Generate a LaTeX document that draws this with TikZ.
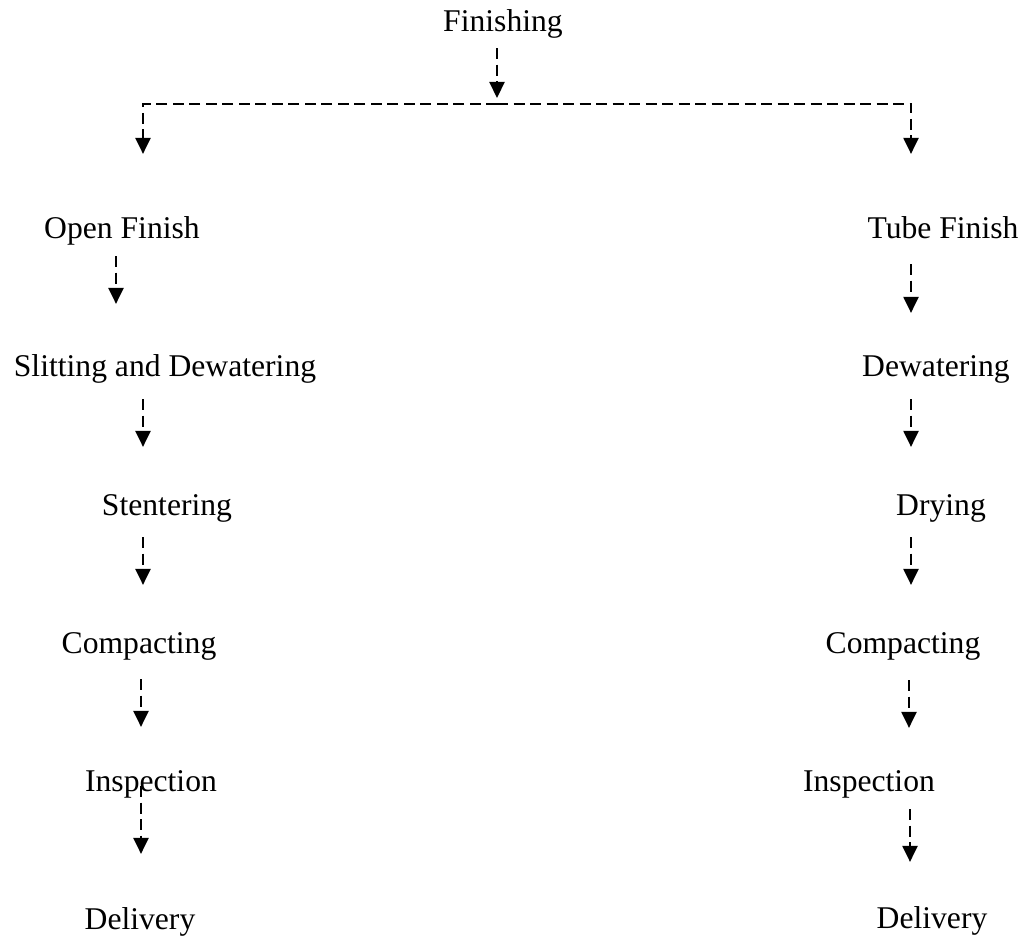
\documentclass[tikz,border=0pt]{standalone}
\usepackage{fontspec}
\setmainfont{Liberation Serif}
\usetikzlibrary{arrows.meta, positioning, calc}
\tikzset{
  every picture/.style={line width=1.25pt},
  lbl/.style={anchor=base, inner sep=0pt, text height=0.44cm, text depth=0.12cm, font=\fontsize{18}{22}\selectfont},
  flow/.style={-{Triangle[length=0.32cm, width=0.3cm]}, dash pattern=on 0.22cm off 0.11cm},
  link/.style={flow, shorten <=0.3cm, shorten >=0.9cm},
}
\begin{document}
\begin{tikzpicture}
  \useasboundingbox (0,0) rectangle (20.58,-18.74);

  \node[lbl] (fin) at (10.06,-0.64) {Finishing};
  \coordinate (split) at (9.94,-2.08);

  % open finish branch
  \node[lbl] (open)  at (2.44,-4.78)  {Open Finish};
  \node[lbl] (slit)  at (3.30,-7.54)  {Slitting and Dewatering};
  \node[lbl] (stent) at (3.34,-10.30) {Stentering};
  \node[lbl] (compl) at (2.78,-13.06) {Compacting};
  \node[lbl] (inspl) at (3.02,-15.82) {Inspection};
  \node[lbl] (dell)  at (2.80,-18.58) {Delivery};

  % tube finish branch
  \node[lbl] (tube)  at (18.86,-4.78)  {Tube Finish};
  \node[lbl] (dewat) at (18.72,-7.54)  {Dewatering};
  \node[lbl] (dry)   at (18.82,-10.30) {Drying};
  \node[lbl] (compr) at (18.06,-13.06) {Compacting};
  \node[lbl] (inspr) at (17.38,-15.82) {Inspection};
  \node[lbl] (delr)  at (18.64,-18.56) {Delivery};

  \draw[flow, shorten <=0.18cm, shorten >=0.12cm] (fin.south -| split) -- (split);
  \draw[flow, shorten >=1.24cm] (split) -| ([xshift=0.42cm]open.north);
  \draw[flow, shorten >=1.24cm] (split) -| ([xshift=-0.64cm]tube.north);

  \draw[link, shorten <=0.2cm, shorten >=1.0cm] ([xshift=-0.12cm]open.south) -- ([xshift=-0.12cm]open.south |- slit.north);
  \draw[link] ([xshift=-0.44cm]slit.south) -- ([xshift=-0.44cm]slit.south |- stent.north);
  \draw[link] ([xshift=-0.48cm]stent.south) -- ([xshift=-0.48cm]stent.south |- compl.north);
  \draw[link, shorten <=0.38cm, shorten >=0.82cm] ([xshift=0.04cm]compl.south) -- ([xshift=0.04cm]compl.south |- inspl.north);
  \draw[link, shorten <=-0.24cm, shorten >=1.04cm] ([xshift=-0.2cm]inspl.south) -- ([xshift=-0.2cm]inspl.south |- dell.north);

  \draw[link, shorten <=0.36cm, shorten >=0.82cm] ([xshift=-0.64cm]tube.south) -- ([xshift=-0.64cm]tube.south |- dewat.north);
  \draw[link] ([xshift=-0.5cm]dewat.south) -- ([xshift=-0.5cm]dewat.south |- dry.north);
  \draw[link] ([xshift=-0.6cm]dry.south) -- ([xshift=-0.6cm]dry.south |- compr.north);
  \draw[link, shorten <=0.4cm, shorten >=0.8cm] ([xshift=0.12cm]compr.south) -- ([xshift=0.12cm]compr.south |- inspr.north);
  \draw[link, shorten <=0.22cm, shorten >=0.86cm] ([xshift=0.82cm]inspr.south) -- ([xshift=0.82cm]inspr.south |- delr.north);
\end{tikzpicture}
\end{document}
